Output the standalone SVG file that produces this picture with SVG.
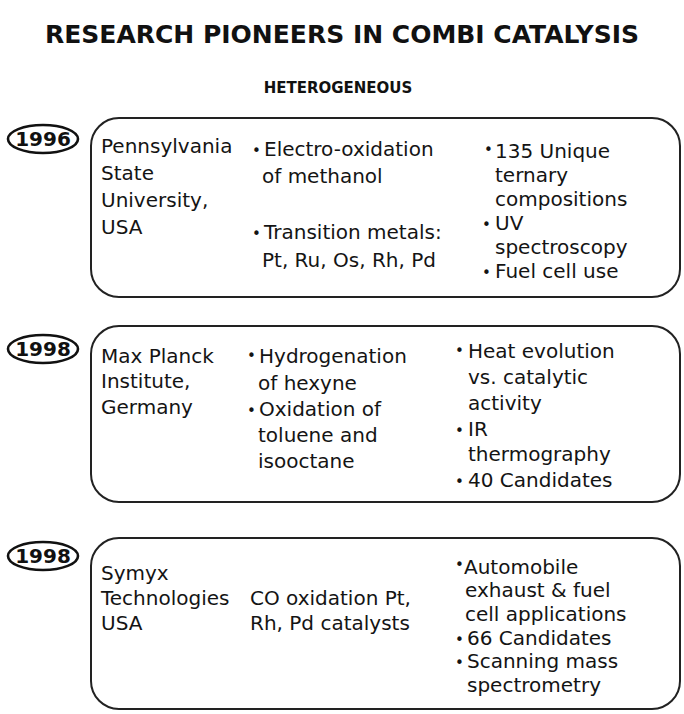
<svg xmlns="http://www.w3.org/2000/svg" width="684" height="714" viewBox="0 0 684 714">
  <style>
    .t { font-family: "DejaVu Sans", Verdana, sans-serif; font-size: 20px; fill: #141414; }
    .b { font-family: "DejaVu Sans", Verdana, sans-serif; font-size: 15px; fill: #141414; }
    .yr { font-family: "DejaVu Sans", Verdana, sans-serif; font-size: 20px; font-weight: bold; fill: #111; text-anchor: middle; }
    .box { fill: #fff; stroke: #222; stroke-width: 2; }
    .oval { fill: #fff; stroke: #111; stroke-width: 2.6; }
    .h1 { font-family: "DejaVu Sans", Verdana, sans-serif; font-size: 25px; font-weight: bold; fill: #111; text-anchor: middle; }
    .h2 { font-family: "DejaVu Sans", Verdana, sans-serif; font-size: 15px; font-weight: bold; fill: #111; text-anchor: middle; }
  </style>
  <rect width="684" height="714" fill="#fff"/>
  <g id="title">
    <text class="h1" x="342" y="43">RESEARCH PIONEERS IN COMBI CATALYSIS</text>
    <text class="h2" x="338" y="93">HETEROGENEOUS</text>
  </g>
  <g id="connectors"></g>

  <g id="node-1996">
    <ellipse class="oval" cx="43" cy="139" rx="35" ry="14"/>
    <text class="yr" x="43" y="146">1996</text>
    <rect class="box" x="91" y="118" width="589" height="179" rx="28" ry="28"/>
    <text class="t" x="101" y="153">Pennsylvania</text>
    <text class="t" x="101" y="180">State</text>
    <text class="t" x="101" y="207">University,</text>
    <text class="t" x="101" y="234">USA</text>
    <text class="b" x="252" y="156">•</text>
    <text class="t" x="264" y="156">Electro-oxidation</text>
    <text class="t" x="262" y="183">of methanol</text>
    <text class="b" x="252" y="239">•</text>
    <text class="t" x="264" y="239">Transition metals:</text>
    <text class="t" x="262" y="267">Pt, Ru, Os, Rh, Pd</text>
    <text class="b" x="484" y="155">•</text>
    <text class="t" x="495" y="158">135 Unique</text>
    <text class="t" x="495" y="182">ternary</text>
    <text class="t" x="495" y="206">compositions</text>
    <text class="b" x="482" y="230">•</text>
    <text class="t" x="495" y="230">UV</text>
    <text class="t" x="495" y="254">spectroscopy</text>
    <text class="b" x="482" y="278">•</text>
    <text class="t" x="495" y="278">Fuel cell use</text>
  </g>

  <g id="node-1998-maxplanck">
    <ellipse class="oval" cx="43" cy="349" rx="35" ry="14"/>
    <text class="yr" x="43" y="356">1998</text>
    <rect class="box" x="91" y="326" width="589" height="176" rx="28" ry="28"/>
    <text class="t" x="101" y="363">Max Planck</text>
    <text class="t" x="101" y="388">Institute,</text>
    <text class="t" x="101" y="414">Germany</text>
    <text class="b" x="247" y="361">•</text>
    <text class="t" x="259" y="363">Hydrogenation</text>
    <text class="t" x="258" y="390">of hexyne</text>
    <text class="b" x="247" y="416">•</text>
    <text class="t" x="259" y="416">Oxidation of</text>
    <text class="t" x="258" y="442">toluene and</text>
    <text class="t" x="258" y="468">isooctane</text>
    <text class="b" x="455" y="356">•</text>
    <text class="t" x="468" y="358">Heat evolution</text>
    <text class="t" x="468" y="384">vs. catalytic</text>
    <text class="t" x="468" y="410">activity</text>
    <text class="b" x="455" y="436">•</text>
    <text class="t" x="468" y="436">IR</text>
    <text class="t" x="468" y="461">thermography</text>
    <text class="b" x="455" y="487">•</text>
    <text class="t" x="468" y="487">40 Candidates</text>
  </g>

  <g id="node-1998-symyx">
    <ellipse class="oval" cx="43" cy="556" rx="35" ry="14"/>
    <text class="yr" x="43" y="563">1998</text>
    <rect class="box" x="91" y="538" width="589" height="171" rx="28" ry="28"/>
    <text class="t" x="101" y="580">Symyx</text>
    <text class="t" x="101" y="605">Technologies</text>
    <text class="t" x="101" y="630">USA</text>
    <text class="t" x="250" y="605">CO oxidation Pt,</text>
    <text class="t" x="250" y="630">Rh, Pd catalysts</text>
    <text class="b" x="455" y="570">•</text>
    <text class="t" x="464" y="574">Automobile</text>
    <text class="t" x="465" y="597">exhaust &amp; fuel</text>
    <text class="t" x="465" y="621">cell applications</text>
    <text class="b" x="455" y="645">•</text>
    <text class="t" x="467" y="645">66 Candidates</text>
    <text class="b" x="455" y="668">•</text>
    <text class="t" x="467" y="668">Scanning mass</text>
    <text class="t" x="467" y="692">spectrometry</text>
  </g>
</svg>
